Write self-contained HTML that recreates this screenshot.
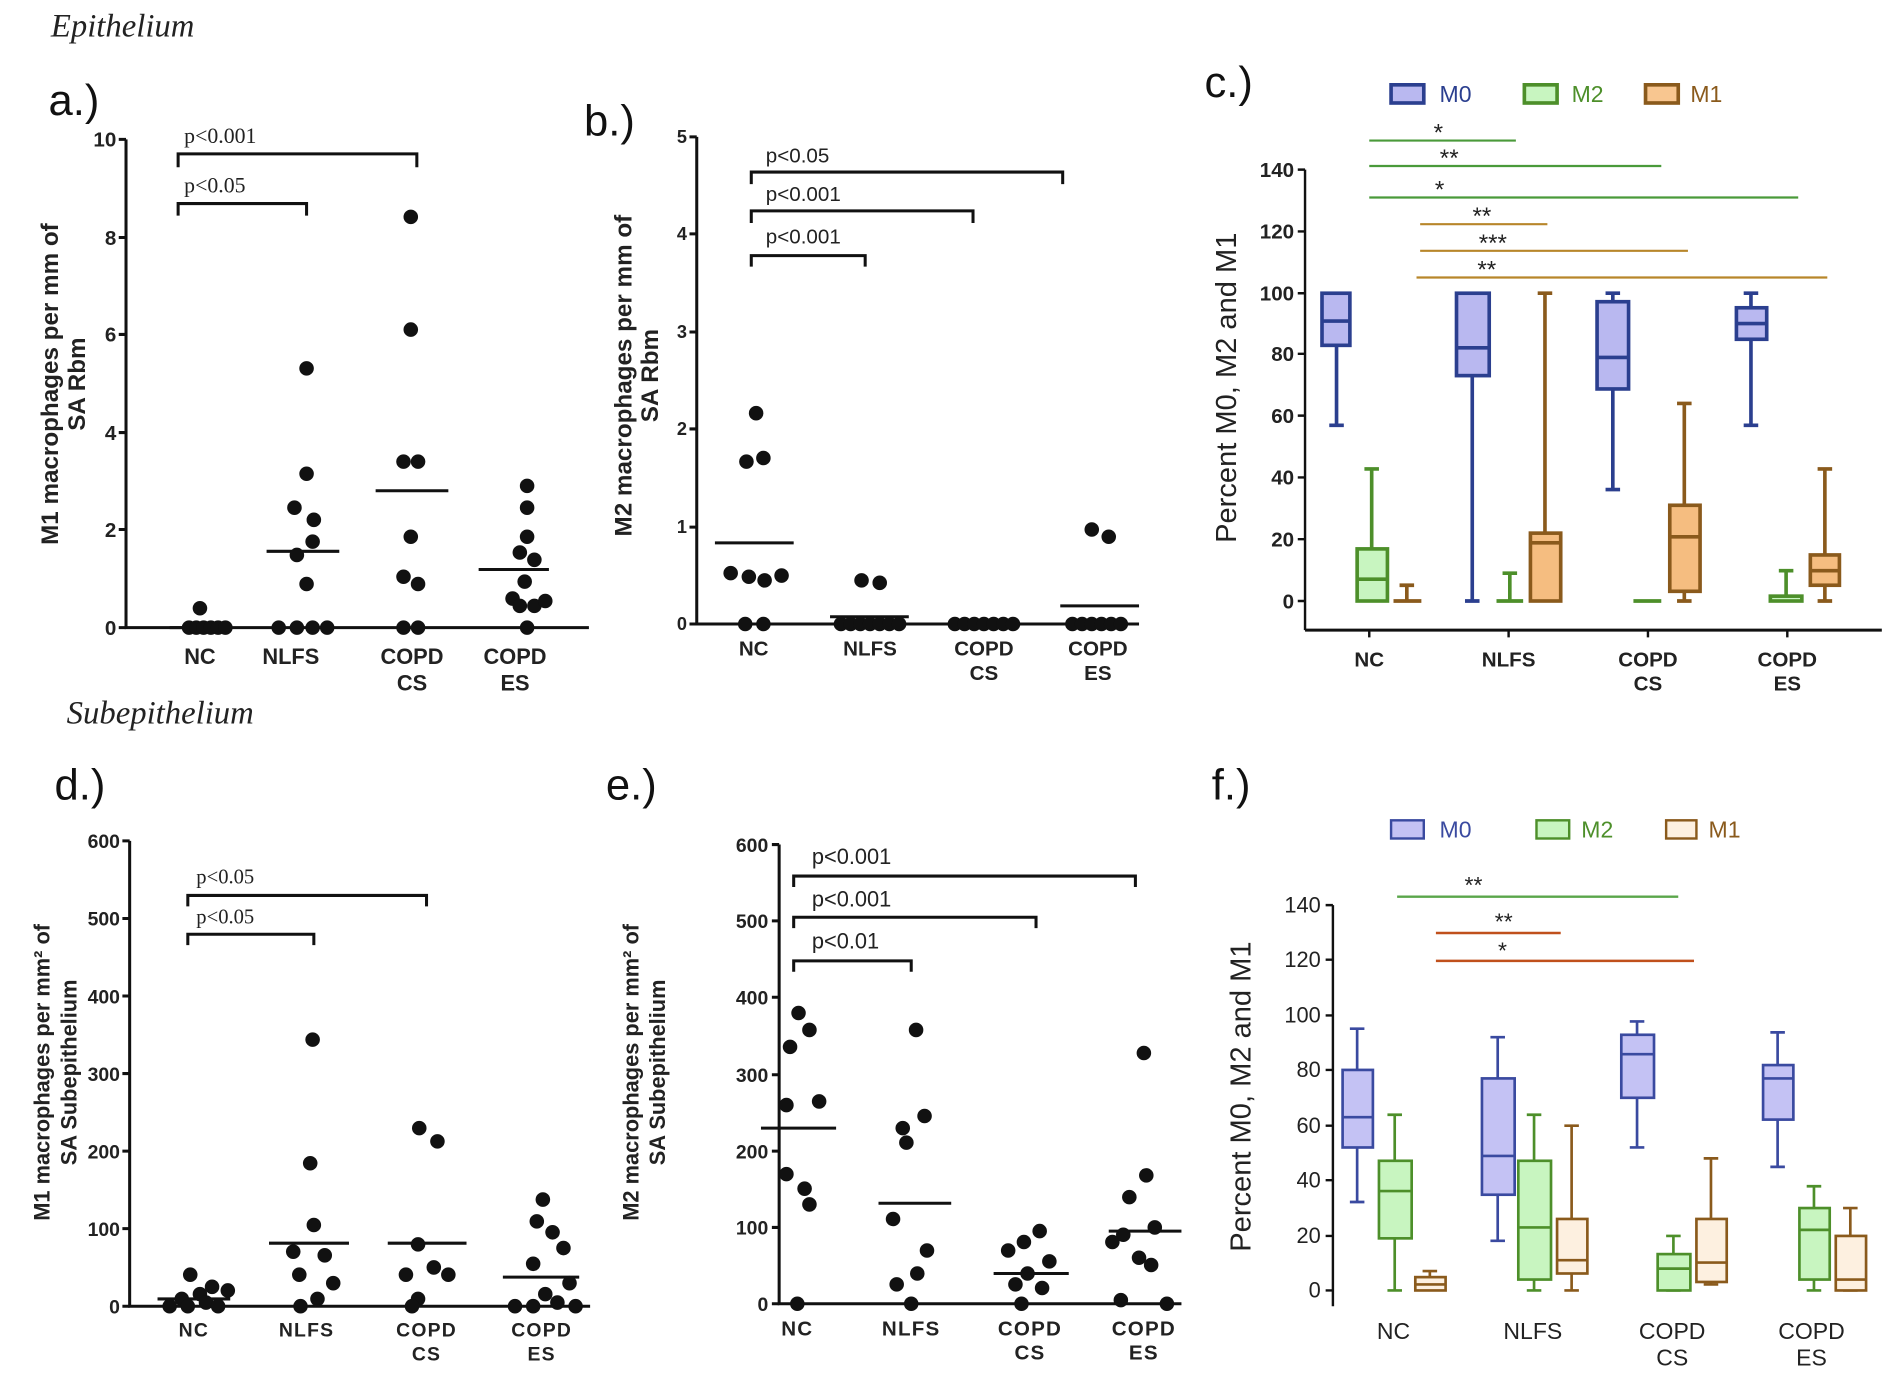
<!DOCTYPE html>
<html><head><meta charset="utf-8"><style>
html,body{margin:0;padding:0;background:#fff;}
svg{display:block}
.t{font-family:"Liberation Sans",Arial,sans-serif;font-weight:bold;fill:#222}
.s{font-family:"Liberation Serif",serif;fill:#222}
</style></head><body>
<svg width="1900" height="1376" viewBox="0 0 1568 1135.6" preserveAspectRatio="none" xmlns="http://www.w3.org/2000/svg">
<rect width="1568" height="1136" fill="#fff"/>
<text x="42" y="30" class="s" font-size="27" font-style="italic">Epithelium</text>
<text x="55" y="597" class="s" font-size="27" font-style="italic">Subepithelium</text>
<g font-family="Liberation Sans,Arial,sans-serif" font-size="36" fill="#111">
<text x="40" y="95">a.)</text><text x="482" y="112">b.)</text><text x="994" y="80">c.)</text>
<text x="45" y="660">d.)</text><text x="500" y="660">e.)</text><text x="1000" y="660">f.)</text>
</g>

<!-- Panel a -->
<g stroke="#111" stroke-width="2.5" fill="none">
<path d="M104,115V518H486"/>
<path d="M98,115H104M98,196H104M98,276H104M98,357H104M98,437H104M98,518H104"/>
<path d="M147,138V127H344V138M147,178V168H253V178"/>
<path d="M220,455H280M310,405H370M395,470H453M140,518H190"/>
</g>
<g class="t" font-size="17" text-anchor="end">
<text x="96" y="121">10</text><text x="96" y="202">8</text><text x="96" y="282">6</text><text x="96" y="363">4</text><text x="96" y="443">2</text><text x="96" y="524">0</text></g>
<g class="s" font-size="18"><text x="152" y="118">p&lt;0.001</text><text x="152" y="159">p&lt;0.05</text></g>
<g class="t" font-size="18" text-anchor="middle">
<text x="165" y="548">NC</text><text x="240" y="548">NLFS</text><text x="340" y="548">COPD</text><text x="340" y="570">CS</text><text x="425" y="548">COPD</text><text x="425" y="570">ES</text></g>
<g class="t" font-size="20" text-anchor="middle" transform="translate(48,317) rotate(-90)"><text x="0" y="0">M1 macrophages per mm of</text><text x="0" y="22">SA Rbm</text></g>
<g fill="#111">
<circle cx="156" cy="518" r="6"/><circle cx="162" cy="518" r="6"/><circle cx="168" cy="518" r="6"/><circle cx="174" cy="518" r="6"/><circle cx="180" cy="518" r="6"/><circle cx="186" cy="518" r="6"/><circle cx="165" cy="502" r="6"/>
<circle cx="253" cy="304" r="6"/><circle cx="253" cy="391" r="6"/><circle cx="243" cy="419" r="6"/><circle cx="259" cy="429" r="6"/><circle cx="258" cy="447" r="6"/><circle cx="245" cy="458" r="6"/><circle cx="253" cy="482" r="6"/><circle cx="230" cy="518" r="6"/><circle cx="245" cy="518" r="6"/><circle cx="258" cy="518" r="6"/><circle cx="270" cy="518" r="6"/>
<circle cx="339" cy="179" r="6"/><circle cx="339" cy="272" r="6"/><circle cx="333" cy="381" r="6"/><circle cx="345" cy="381" r="6"/><circle cx="339" cy="443" r="6"/><circle cx="333" cy="476" r="6"/><circle cx="345" cy="482" r="6"/><circle cx="333" cy="518" r="6"/><circle cx="345" cy="518" r="6"/>
<circle cx="435" cy="401" r="6"/><circle cx="435" cy="419" r="6"/><circle cx="435" cy="443" r="6"/><circle cx="429" cy="456" r="6"/><circle cx="441" cy="462" r="6"/><circle cx="433" cy="480" r="6"/><circle cx="423" cy="494" r="6"/><circle cx="429" cy="500" r="6"/><circle cx="441" cy="500" r="6"/><circle cx="450" cy="496" r="6"/><circle cx="435" cy="518" r="6"/>
</g>

<!-- Panel b -->
<g stroke="#111" stroke-width="2.5" fill="none">
<path d="M575,113V515H940"/>
<path d="M569,113H575M569,193H575M569,274H575M569,354H575M569,435H575M569,515H575"/>
<path d="M620,152V142H877V152M620,184V174H803V184M620,220V211H714V220"/>
<path d="M590,448H655M685,509H750M875,500H940"/>
</g>
<g class="t" font-size="15" text-anchor="end">
<text x="567" y="118">5</text><text x="567" y="198">4</text><text x="567" y="279">3</text><text x="567" y="359">2</text><text x="567" y="440">1</text><text x="567" y="520">0</text></g>
<g font-family="Liberation Sans,Arial,sans-serif" font-size="17" fill="#222"><text x="632" y="134">p&lt;0.05</text><text x="632" y="166">p&lt;0.001</text><text x="632" y="201">p&lt;0.001</text></g>
<g class="t" font-size="17" text-anchor="middle">
<text x="622" y="541">NC</text><text x="718" y="541">NLFS</text><text x="812" y="541">COPD</text><text x="812" y="561">CS</text><text x="906" y="541">COPD</text><text x="906" y="561">ES</text></g>
<g class="t" font-size="20" text-anchor="middle" transform="translate(521,310) rotate(-90)"><text x="0" y="0">M2 macrophages per mm of</text><text x="0" y="22">SA Rbm</text></g>
<g fill="#111">
<circle cx="624" cy="341" r="6"/><circle cx="616" cy="381" r="6"/><circle cx="630" cy="378" r="6"/><circle cx="603" cy="473" r="6"/><circle cx="618" cy="476" r="6"/><circle cx="631" cy="479" r="6"/><circle cx="645" cy="475" r="6"/><circle cx="615" cy="515" r="6"/><circle cx="630" cy="515" r="6"/>
<circle cx="711" cy="479" r="6"/><circle cx="726" cy="481" r="6"/><circle cx="694" cy="515" r="6"/><circle cx="702" cy="515" r="6"/><circle cx="710" cy="515" r="6"/><circle cx="718" cy="515" r="6"/><circle cx="726" cy="515" r="6"/><circle cx="734" cy="515" r="6"/><circle cx="742" cy="515" r="6"/>
<circle cx="788" cy="515" r="6"/><circle cx="796" cy="515" r="6"/><circle cx="804" cy="515" r="6"/><circle cx="812" cy="515" r="6"/><circle cx="820" cy="515" r="6"/><circle cx="828" cy="515" r="6"/><circle cx="836" cy="515" r="6"/>
<circle cx="901" cy="437" r="6"/><circle cx="915" cy="443" r="6"/><circle cx="885" cy="515" r="6"/><circle cx="893" cy="515" r="6"/><circle cx="901" cy="515" r="6"/><circle cx="909" cy="515" r="6"/><circle cx="917" cy="515" r="6"/><circle cx="925" cy="515" r="6"/>
</g>

<!-- Panel c -->
<g font-family="Liberation Sans,Arial,sans-serif" font-size="19">
<rect x="1148" y="70" width="27" height="15" fill="#b9b8f0" stroke="#2b3f8f" stroke-width="3"/><text x="1188" y="84" fill="#2b3f8f">M0</text>
<rect x="1258" y="70" width="27" height="15" fill="#c8f5c0" stroke="#4d8f2a" stroke-width="3"/><text x="1297" y="84" fill="#4d8f2a">M2</text>
<rect x="1358" y="70" width="27" height="15" fill="#f8c690" stroke="#8a5a1c" stroke-width="3"/><text x="1395" y="84" fill="#8a5a1c">M1</text>
</g>
<g stroke="#111" stroke-width="2" fill="none">
<path d="M1077,140V520"/>
<path d="M1077,520H1553" stroke-width="2.5"/>
<path d="M1071,140H1077M1071,191H1077M1071,242H1077M1071,292H1077M1071,343H1077M1071,394H1077M1071,445H1077M1071,496H1077"/>
<path d="M1130,520V526M1245,520V526M1360,520V526M1475,520V526"/>
</g>
<g class="t" font-size="17" text-anchor="end">
<text x="1068" y="146">140</text><text x="1068" y="197">120</text><text x="1068" y="248">100</text><text x="1068" y="298">80</text><text x="1068" y="349">60</text><text x="1068" y="400">40</text><text x="1068" y="451">20</text><text x="1068" y="502">0</text></g>
<text transform="translate(1020,320) rotate(-90)" text-anchor="middle" font-family="Liberation Sans,Arial,sans-serif" font-size="24" fill="#222">Percent M0, M2 and M1</text>
<g class="t" font-size="17" text-anchor="middle">
<text x="1130" y="550">NC</text><text x="1245" y="550">NLFS</text><text x="1360" y="550">COPD</text><text x="1360" y="570">CS</text><text x="1475" y="550">COPD</text><text x="1475" y="570">ES</text></g>
<g stroke-width="1.8">
<path d="M1130,116H1251M1130,137H1371M1130,163H1484" stroke="#4a9a3a"/>
<path d="M1172,185H1277M1172,207H1393M1169,229H1508" stroke="#b8862a"/>
</g>
<g font-family="Liberation Sans,Arial,sans-serif" font-size="20" fill="#222" text-anchor="middle">
<text x="1187" y="116">*</text><text x="1196" y="137">**</text><text x="1188" y="163">*</text><text x="1223" y="185">**</text><text x="1232" y="207">***</text><text x="1227" y="229">**</text></g>
<!-- c boxes -->
<g stroke="#2b3f8f" stroke-width="3" fill="#b9b8f0">
<path d="M1103,242V351M1097,351H1109" fill="none"/><rect x="1091" y="242" width="23" height="43"/><path d="M1091,265H1114"/>
<path d="M1215,287V496M1209,496H1221" fill="none"/><rect x="1202" y="242" width="27" height="68"/><path d="M1202,287H1229"/>
<path d="M1331,242V404M1325,404H1337M1325,242H1337" fill="none"/><rect x="1318" y="249" width="26" height="72"/><path d="M1318,295H1344"/>
<path d="M1445,242V351M1439,351H1451M1439,242H1451" fill="none"/><rect x="1433" y="254" width="25" height="26"/><path d="M1433,267H1458"/>
</g>
<g stroke="#4d8f2a" stroke-width="3" fill="#c8f5c0">
<path d="M1132,387V496M1126,387H1138" fill="none"/><rect x="1120" y="453" width="25" height="43"/><path d="M1120,478H1145"/>
<path d="M1246,473V496M1240,473H1252M1235,496H1257" fill="none"/>
<path d="M1348,496H1371" fill="none"/>
<path d="M1474,471V494M1468,471H1480" fill="none"/><rect x="1461" y="492" width="26" height="4"/>
</g>
<g stroke="#8a5a1c" stroke-width="3" fill="#f5bd80">
<path d="M1161,483V496M1155,483H1167M1150,496H1173" fill="none"/>
<path d="M1275,242V496M1269,242H1281" fill="none"/><rect x="1263" y="440" width="25" height="56"/><path d="M1263,448H1288"/>
<path d="M1390,333V496M1384,333H1396M1384,496H1396" fill="none"/><rect x="1378" y="417" width="25" height="71"/><path d="M1378,443H1403"/>
<path d="M1506,387V496M1500,387H1512M1500,496H1512" fill="none"/><rect x="1494" y="458" width="24" height="25"/><path d="M1494,471H1518"/>
</g>

<!-- Panel d -->
<g stroke="#111" stroke-width="2.5" fill="none">
<path d="M107,694V1078H487"/>
<path d="M101,694H107M101,758H107M101,822H107M101,886H107M101,950H107M101,1014H107M101,1078H107"/>
<path d="M155,748V739H352V748M155,780V771H259V780"/>
<path d="M130,1072H190M222,1026H288M320,1026H385M415,1054H478"/>
</g>
<g class="t" font-size="16" text-anchor="end">
<text x="99" y="700">600</text><text x="99" y="764">500</text><text x="99" y="828">400</text><text x="99" y="892">300</text><text x="99" y="956">200</text><text x="99" y="1020">100</text><text x="99" y="1084">0</text></g>
<g class="s" font-size="17"><text x="162" y="729">p&lt;0.05</text><text x="162" y="762">p&lt;0.05</text></g>
<g class="t" font-size="16" text-anchor="middle" letter-spacing="1">
<text x="160" y="1103">NC</text><text x="253" y="1103">NLFS</text><text x="352" y="1103">COPD</text><text x="352" y="1123">CS</text><text x="447" y="1103">COPD</text><text x="447" y="1123">ES</text></g>
<g class="t" font-size="18" text-anchor="middle" transform="translate(41,885) rotate(-90)"><text x="0" y="0">M1 macrophages per mm² of</text><text x="0" y="22">SA Subepithelium</text></g>
<g fill="#111">
<circle cx="157" cy="1052" r="6"/><circle cx="175" cy="1062" r="6"/><circle cx="188" cy="1065" r="6"/><circle cx="165" cy="1068" r="6"/><circle cx="150" cy="1072" r="6"/><circle cx="170" cy="1075" r="6"/><circle cx="140" cy="1078" r="6"/><circle cx="155" cy="1078" r="6"/><circle cx="180" cy="1078" r="6"/>
<circle cx="258" cy="858" r="6"/><circle cx="256" cy="960" r="6"/><circle cx="259" cy="1011" r="6"/><circle cx="242" cy="1033" r="6"/><circle cx="268" cy="1036" r="6"/><circle cx="247" cy="1052" r="6"/><circle cx="275" cy="1059" r="6"/><circle cx="262" cy="1072" r="6"/><circle cx="248" cy="1078" r="6"/>
<circle cx="346" cy="931" r="6"/><circle cx="361" cy="942" r="6"/><circle cx="345" cy="1027" r="6"/><circle cx="358" cy="1046" r="6"/><circle cx="335" cy="1052" r="6"/><circle cx="370" cy="1052" r="6"/><circle cx="345" cy="1072" r="6"/><circle cx="340" cy="1078" r="6"/>
<circle cx="448" cy="990" r="6"/><circle cx="443" cy="1008" r="6"/><circle cx="456" cy="1017" r="6"/><circle cx="465" cy="1030" r="6"/><circle cx="440" cy="1043" r="6"/><circle cx="470" cy="1059" r="6"/><circle cx="450" cy="1068" r="6"/><circle cx="460" cy="1075" r="6"/><circle cx="425" cy="1078" r="6"/><circle cx="440" cy="1078" r="6"/><circle cx="475" cy="1078" r="6"/>
</g>

<!-- Panel e -->
<g stroke="#111" stroke-width="2.5" fill="none">
<path d="M643,697V1076H975"/>
<path d="M637,697H643M637,760H643M637,823H643M637,887H643M637,950H643M637,1013H643M637,1076H643"/>
<path d="M655,732V723H937V732M655,766V757H855V766M655,802V793H752V802"/>
<path d="M628,931H690M725,993H785M820,1051H882M915,1016H975"/>
</g>
<g class="t" font-size="16" text-anchor="end">
<text x="634" y="703">600</text><text x="634" y="766">500</text><text x="634" y="829">400</text><text x="634" y="893">300</text><text x="634" y="956">200</text><text x="634" y="1019">100</text><text x="634" y="1082">0</text></g>
<g font-family="Liberation Sans,Arial,sans-serif" font-size="18" fill="#222"><text x="670" y="713">p&lt;0.001</text><text x="670" y="748">p&lt;0.001</text><text x="670" y="783">p&lt;0.01</text></g>
<g class="t" font-size="17" text-anchor="middle" letter-spacing="1">
<text x="658" y="1102">NC</text><text x="752" y="1102">NLFS</text><text x="850" y="1102">COPD</text><text x="850" y="1122">CS</text><text x="944" y="1102">COPD</text><text x="944" y="1122">ES</text></g>
<g class="t" font-size="18" text-anchor="middle" transform="translate(527,885) rotate(-90)"><text x="0" y="0">M2 macrophages per mm² of</text><text x="0" y="22">SA Subepithelium</text></g>
<g fill="#111">
<circle cx="659" cy="836" r="6"/><circle cx="668" cy="850" r="6"/><circle cx="652" cy="864" r="6"/><circle cx="676" cy="909" r="6"/><circle cx="649" cy="912" r="6"/><circle cx="649" cy="969" r="6"/><circle cx="664" cy="981" r="6"/><circle cx="668" cy="994" r="6"/><circle cx="658" cy="1076" r="6"/>
<circle cx="756" cy="850" r="6"/><circle cx="763" cy="921" r="6"/><circle cx="745" cy="931" r="6"/><circle cx="748" cy="943" r="6"/><circle cx="737" cy="1006" r="6"/><circle cx="765" cy="1032" r="6"/><circle cx="757" cy="1051" r="6"/><circle cx="740" cy="1060" r="6"/><circle cx="752" cy="1076" r="6"/>
<circle cx="858" cy="1016" r="6"/><circle cx="845" cy="1025" r="6"/><circle cx="832" cy="1032" r="6"/><circle cx="866" cy="1041" r="6"/><circle cx="848" cy="1051" r="6"/><circle cx="838" cy="1060" r="6"/><circle cx="860" cy="1063" r="6"/><circle cx="843" cy="1076" r="6"/>
<circle cx="944" cy="869" r="6"/><circle cx="946" cy="970" r="6"/><circle cx="932" cy="988" r="6"/><circle cx="953" cy="1013" r="6"/><circle cx="927" cy="1019" r="6"/><circle cx="918" cy="1025" r="6"/><circle cx="940" cy="1038" r="6"/><circle cx="950" cy="1044" r="6"/><circle cx="925" cy="1073" r="6"/><circle cx="963" cy="1076" r="6"/>
</g>

<!-- Panel f -->
<g font-family="Liberation Sans,Arial,sans-serif" font-size="19">
<rect x="1148" y="677" width="27" height="15" fill="#c4c2f4" stroke="#3a4aa0" stroke-width="2"/><text x="1188" y="691" fill="#3a4aa0">M0</text>
<rect x="1268" y="677" width="27" height="15" fill="#c8f5c0" stroke="#4d8f2a" stroke-width="2"/><text x="1305" y="691" fill="#4d8f2a">M2</text>
<rect x="1375" y="677" width="25" height="15" fill="#fdf0e0" stroke="#8a5a1c" stroke-width="2"/><text x="1410" y="691" fill="#8a5a1c">M1</text>
</g>
<g stroke="#111" stroke-width="2" fill="none">
<path d="M1100,747V1078"/>
<path d="M1094,747H1100M1094,792H1100M1094,838H1100M1094,883H1100M1094,929H1100M1094,974H1100M1094,1020H1100M1094,1065H1100"/>
</g>
<g font-family="Liberation Sans,Arial,sans-serif" font-size="18" fill="#222" text-anchor="end">
<text x="1090" y="753">140</text><text x="1090" y="798">120</text><text x="1090" y="844">100</text><text x="1090" y="889">80</text><text x="1090" y="935">60</text><text x="1090" y="980">40</text><text x="1090" y="1026">20</text><text x="1090" y="1071">0</text></g>
<text transform="translate(1032,905) rotate(-90)" text-anchor="middle" font-family="Liberation Sans,Arial,sans-serif" font-size="24" fill="#222">Percent M0, M2 and M1</text>
<g font-family="Liberation Sans,Arial,sans-serif" font-size="19" fill="#222" text-anchor="middle">
<text x="1150" y="1105">NC</text><text x="1265" y="1105">NLFS</text><text x="1380" y="1105">COPD</text><text x="1380" y="1127">CS</text><text x="1495" y="1105">COPD</text><text x="1495" y="1127">ES</text></g>
<path d="M1153,740H1385" stroke="#5aa64a" stroke-width="2"/>
<path d="M1185,770H1288M1185,793H1398" stroke="#c0501c" stroke-width="2"/>
<g font-family="Liberation Sans,Arial,sans-serif" font-size="19" fill="#222" text-anchor="middle">
<text x="1216" y="737">**</text><text x="1241" y="767">**</text><text x="1240" y="791">*</text></g>
<g stroke="#3a4aa0" stroke-width="2.2" fill="#c4c2f4">
<path d="M1120,849V992M1114,849H1126M1114,992H1126" fill="none"/><rect x="1108" y="883" width="25" height="64"/><path d="M1108,922H1133"/>
<path d="M1236,856V1024M1230,856H1242M1230,1024H1242" fill="none"/><rect x="1223" y="890" width="27" height="96"/><path d="M1223,954H1250"/>
<path d="M1351,843V947M1345,843H1357M1345,947H1357" fill="none"/><rect x="1338" y="854" width="27" height="52"/><path d="M1338,870H1365"/>
<path d="M1467,852V963M1461,852H1473M1461,963H1473" fill="none"/><rect x="1455" y="879" width="25" height="45"/><path d="M1455,890H1480"/>
</g>
<g stroke="#4d8f2a" stroke-width="2.2" fill="#c8f5c0">
<path d="M1151,920V1065M1145,920H1157M1145,1065H1157" fill="none"/><rect x="1138" y="958" width="27" height="64"/><path d="M1138,983H1165"/>
<path d="M1266,920V1065M1260,920H1272M1260,1065H1272" fill="none"/><rect x="1253" y="958" width="27" height="98"/><path d="M1253,1013H1280"/>
<path d="M1381,1020V1065M1375,1020H1387M1375,1065H1387" fill="none"/><rect x="1368" y="1035" width="27" height="30"/><path d="M1368,1047H1395"/>
<path d="M1497,979V1065M1491,979H1503M1491,1065H1503" fill="none"/><rect x="1485" y="997" width="25" height="59"/><path d="M1485,1015H1510"/>
</g>
<g stroke="#8a5a1c" stroke-width="2.2" fill="#fdf0e0">
<path d="M1180,1049V1065M1174,1049H1186" fill="none"/><rect x="1168" y="1054" width="25" height="11"/><path d="M1168,1060H1193"/>
<path d="M1297,929V1065M1291,929H1303M1291,1065H1303" fill="none"/><rect x="1285" y="1006" width="25" height="45"/><path d="M1285,1040H1310"/>
<path d="M1412,956V1060M1406,956H1418M1406,1060H1418" fill="none"/><rect x="1400" y="1006" width="25" height="52"/><path d="M1400,1042H1425"/>
<path d="M1527,997V1065M1521,997H1533M1521,1065H1533" fill="none"/><rect x="1515" y="1020" width="25" height="45"/><path d="M1515,1056H1540"/>
</g>
</svg>
</body></html>
